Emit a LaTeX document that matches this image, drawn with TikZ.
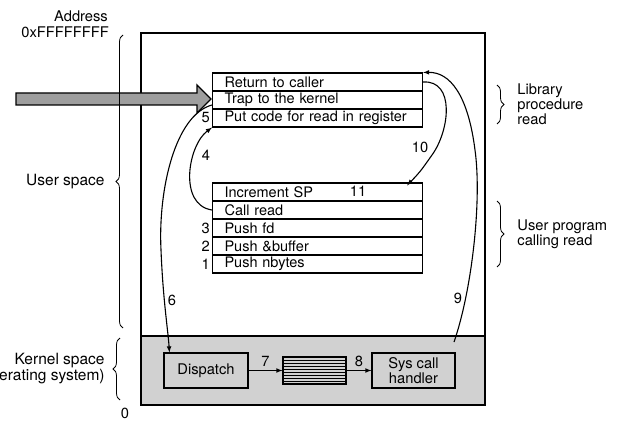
\documentclass[tikz,border=0pt]{standalone}
\usepackage{fontspec}
\setmainfont{TeX Gyre Heros}
\usetikzlibrary{arrows,positioning,decorations.pathreplacing}
\definecolor{kernelgray}{gray}{0.82}
\definecolor{bigarrowgray}{gray}{0.62}

\begin{document}
\begin{tikzpicture}[x=1pt,y=-1pt,>=latex,
    font=\fontsize{14.7}{15}\selectfont,
    row/.style={draw,line width=1.1pt,anchor=west,minimum height=18pt,
      inner ysep=0pt,inner xsep=12pt,text width=186pt,align=left,
      font=\fontsize{14.5}{15}\selectfont},
    kbox/.style={draw,line width=1.1pt,fill=kernelgray,minimum height=35pt,
      inner sep=0pt,align=center},
    num/.style={inner sep=0pt},
    side/.style={inner sep=0pt,font=\fontsize{15.5}{16}\selectfont},
    brc/.style={decorate,decoration={brace,amplitude=7pt},line width=0.8pt},
    flow/.style={->,line width=1.1pt}]
  \useasboundingbox (0,0) rectangle (624,425);

  % address space
  \draw[line width=1.2pt] (141,33) rectangle (485,405);
  \filldraw[fill=kernelgray,line width=1.2pt] (141,336) rectangle (485,405);

  \node[num,anchor=east] (addr) at (108,16) {Address};
  \node[num,anchor=east] (top) at (109,32) {0xFFFFFFFF};
  \node[num] (zero) at (125,413) {0};

  % library procedure
  \node[row] (ret) at (212,82) {Return to caller};
  \node[row] (trap) at (212,100) {Trap to the kernel};
  \node[row] (putcode) at (212,118) {Put code for read in register};

  % user program
  \node[row] (incsp) at (212,192) {Increment SP};
  \node[row] (callread) at (212,210) {Call read};
  \node[row] (pushfd) at (212,228) {Push fd};
  \node[row] (pushbuf) at (212,246) {Push \&buffer};
  \node[row] (pushnb) at (212,264) {Push nbytes};

  \node[num,left=2pt of putcode] (n5) {5};
  \node[num,left=2pt of pushfd] (n3) {3};
  \node[num,left=2pt of pushbuf] (n2) {2};
  \node[num,left=2pt of pushnb] (n1) {1};
  \node[num] (n11) at (358,191) {11};

  % kernel
  \node[kbox,minimum width=84pt] (dispatch) at (206,370.5) {Dispatch};
  \node[kbox,minimum width=63pt,minimum height=27pt,
    path picture={\foreach \k in {1,...,8}
      \draw[line width=0.7pt] ([yshift={-3pt*\k}]path picture bounding box.north west)
        -- ([yshift={-3pt*\k}]path picture bounding box.north east);}] (queue) at (314.5,370.5) {};
  \node[kbox,minimum width=83pt] (handler) at (413.5,370.5) {Sys call\\handler};

  \draw[flow] (dispatch) -- node[above] (n7) {7} (queue);
  \draw[flow] (queue) -- node[above] (n8) {8} (handler);

  % the trap
  \draw[flow] (callread.west) .. controls (178,205) and (188,145) .. (putcode.south west);
  \node[num] (n4) at (206,155) {4};
  \draw[flow] ([yshift=-5pt]trap.west) .. controls (175,115) and (158,190) .. (161,250)
    .. controls (163,300) and (168,330) .. ([xshift=6pt]dispatch.north west);
  \node[num] (n6) at (172,300) {6};
  \coordinate (back) at (454,342);
  \draw[flow] (back) .. controls (472,290) and (482,200) .. (475,150)
    .. controls (468,95) and (450,72) .. (ret.north east);
  \node[num] (n9) at (458,298) {9};
  \draw[flow] (ret.east) .. controls (455,80) and (450,130) .. (432,155)
    .. controls (420,172) .. ([xshift=-16pt,yshift=-3pt]incsp.north east);
  \node[num] (n10) at (420,147) {10};

  % big arrow
  \filldraw[fill=bigarrowgray,line width=1.3pt] (16,93) -- (197,93) -- (197,85) -- (211,99)
    -- (197,113) -- (197,105) -- (16,105) -- cycle;

  % braces
  \draw[brc] (123,328) -- (123,35) node[midway,left=18pt,side] (uspace) {User space};
  \draw[brc] (120,400) -- (120,338) node[midway,left=15pt,side,align=right] (kspace)
    {Kernel space\\(Operating system)};
  \draw[brc] (497,85) -- (497,124) node[midway,right=20pt,num,align=left] (lib)
    {Library\\procedure\\read};
  \draw[brc] (497,201) -- (497,267) node[midway,right=20pt,num,align=left] (uprog)
    {User program\\calling read};
\end{tikzpicture}
\end{document}
